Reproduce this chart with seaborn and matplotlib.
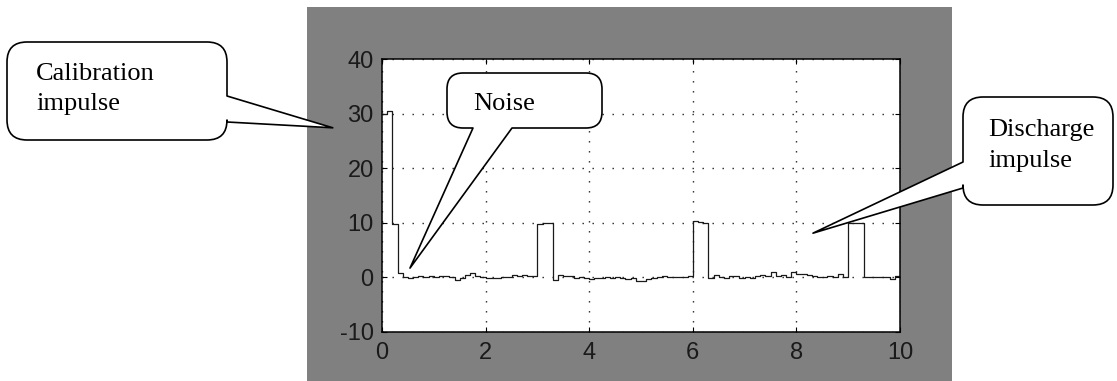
import numpy as np
import matplotlib
matplotlib.use("Agg")
import matplotlib.pyplot as plt
from matplotlib.patches import Rectangle, PathPatch
from matplotlib.path import Path
import seaborn as sns

# sample times (s) and measured signal
time_s = [
    0.0, 0.1, 0.2, 0.3, 0.4, 0.5, 0.6, 0.7, 0.8, 0.9,
    1.0, 1.1, 1.2, 1.3, 1.4, 1.5, 1.6, 1.7, 1.8, 1.9,
    2.0, 2.1, 2.2, 2.3, 2.4, 2.5, 2.6, 2.7, 2.8, 2.9,
    3.0, 3.1, 3.2, 3.3, 3.4, 3.5, 3.6, 3.7, 3.8, 3.9,
    4.0, 4.1, 4.2, 4.3, 4.4, 4.5, 4.6, 4.7, 4.8, 4.9,
    5.0, 5.1, 5.2, 5.3, 5.4, 5.5, 5.6, 5.7, 5.8, 5.9,
    6.0, 6.1, 6.2, 6.3, 6.4, 6.5, 6.6, 6.7, 6.8, 6.9,
    7.0, 7.1, 7.2, 7.3, 7.4, 7.5, 7.6, 7.7, 7.8, 7.9,
    8.0, 8.1, 8.2, 8.3, 8.4, 8.5, 8.6, 8.7, 8.8, 8.9,
    9.0, 9.1, 9.2, 9.3, 9.4, 9.5, 9.6, 9.7, 9.8, 9.9,
    10.0,
]
signal = [
    30.0, 30.4, 9.7, 0.8, 0.1, -0.1, 0.0, 0.2, 0.1, 0.2,
    0.1, 0.2, 0.3, 0.1, -0.4, -0.1, 0.4, 0.8, 0.2, 0.0,
    -0.1, -0.1, -0.1, 0.0, 0.1, 0.4, 0.3, 0.5, 0.2, 0.3,
    9.8, 10.0, 10.0, -0.5, 0.4, 0.2, 0.3, -0.2, 0.1, -0.2,
    -0.3, -0.1, -0.2, 0.1, -0.2, 0.0, -0.1, -0.3, -0.2, -0.6,
    -0.7, -0.3, -0.2, 0.1, 0.3, 0.0, 0.0, 0.1, 0.0, 0.3,
    10.3, 10.2, 10.0, -0.2, 0.4, 0.1, -0.1, 0.3, 0.2, -0.2,
    0.1, -0.1, 0.2, 0.5, 0.3, 0.9, 0.2, 0.4, 0.1, 1.0,
    0.6, 0.6, 0.5, 0.2, 0.1, 0.0, 0.3, 0.1, 0.6, 0.0,
    10.0, 10.0, 10.0, 0.0, 0.0, 0.0, 0.1, 0.0, -0.3, 0.2,
    0.4,
]
x_ticks = [0, 2, 4, 6, 8, 10]
y_ticks = [-10, 0, 10, 20, 30, 40]

plt.rcParams["axes.unicode_minus"] = False

W, H = 1117, 381
fig = plt.figure(figsize=(W / 100, H / 100), dpi=100)
fig.patch.set_facecolor("white")

# grey figure panel (matlab style)
fig.add_artist(Rectangle((307 / W, 0), 645 / W, 374 / H, transform=fig.transFigure,
                         facecolor="#808080", edgecolor="none", zorder=-1))

ax = fig.add_axes([382 / W, (H - 332) / H, 518 / W, 273 / H])
ax.set_facecolor("white")
sns.lineplot(x=time_s, y=signal, ax=ax, color="#1a1a1a", linewidth=0.9,
             drawstyle="steps-post", estimator=None)
ax.set_xlim(0, 10)
ax.set_ylim(-10, 40)
ax.set_xticks(x_ticks)
ax.set_yticks(y_ticks)
ax.grid(True, color="#222222", linewidth=1.0, linestyle=(0, (1, 6.2)))
ax.tick_params(direction="in", top=True, right=True, length=3.6, width=0.8,
               labelsize=17, labelcolor="#1a1a1a")
ax.tick_params(axis="x", pad=7)
ax.tick_params(axis="y", pad=6)
for lab in ax.get_xticklabels() + ax.get_yticklabels():
    lab.set_family(["Liberation Sans Narrow", "Liberation Sans", "DejaVu Sans"])
for sp in ax.spines.values():
    sp.set_linewidth(1.1)
    sp.set_color("black")

# overlay in pixel coordinates for the callouts
ov = fig.add_axes([0, 0, 1, 1], zorder=5)
ov.set_xlim(0, W)
ov.set_ylim(H, 0)
ov.axis("off")


def to_px(x, y):
    return ov.transData.inverted().transform(ax.transData.transform((x, y)))


def callout(x0, y0, x1, y1, r, side, a, b, tip):
    verts = [(x0 + r, y0)]
    codes = [Path.MOVETO]
    if side == "top":
        verts += [(a, y0), tip, (b, y0)]
        codes += [Path.LINETO] * 3
    verts += [(x1 - r, y0), (x1, y0), (x1, y0 + r)]
    codes += [Path.LINETO, Path.CURVE3, Path.CURVE3]
    if side == "right":
        verts += [(x1, a), tip, (x1, b)]
        codes += [Path.LINETO] * 3
    verts += [(x1, y1 - r), (x1, y1), (x1 - r, y1)]
    codes += [Path.LINETO, Path.CURVE3, Path.CURVE3]
    if side == "bottom":
        verts += [(b, y1), tip, (a, y1)]
        codes += [Path.LINETO] * 3
    verts += [(x0 + r, y1), (x0, y1), (x0, y1 - r)]
    codes += [Path.LINETO, Path.CURVE3, Path.CURVE3]
    if side == "left":
        verts += [(x0, b), tip, (x0, a)]
        codes += [Path.LINETO] * 3
    verts += [(x0, y0 + r), (x0, y0), (x0 + r, y0), (x0 + r, y0)]
    codes += [Path.LINETO, Path.CURVE3, Path.CURVE3, Path.CLOSEPOLY]
    ov.add_patch(PathPatch(Path(verts, codes), facecolor="white", edgecolor="black",
                           linewidth=1.2, joinstyle="round"))


txt = dict(family=["Liberation Serif", "DejaVu Serif"], fontsize=19, color="black",
           va="baseline", ha="left")

callout(7, 42, 227, 140, 20, "right", 96, 122, to_px(-0.95, 27.4))
ov.text(36, 80, "Calibration", **txt)
ov.text(36, 110, "impulse", **txt)

callout(447, 73, 602, 128, 16, "bottom", 473, 512, to_px(0.54, 1.7))
ov.text(473, 110, "Noise", **txt)

callout(963, 97, 1113, 205, 20, "left", 162, 188, to_px(8.32, 8.1))
ov.text(988, 136, "Discharge", **txt)
ov.text(988, 167, "impulse", **txt)

fig.savefig("out.png", dpi=100)
